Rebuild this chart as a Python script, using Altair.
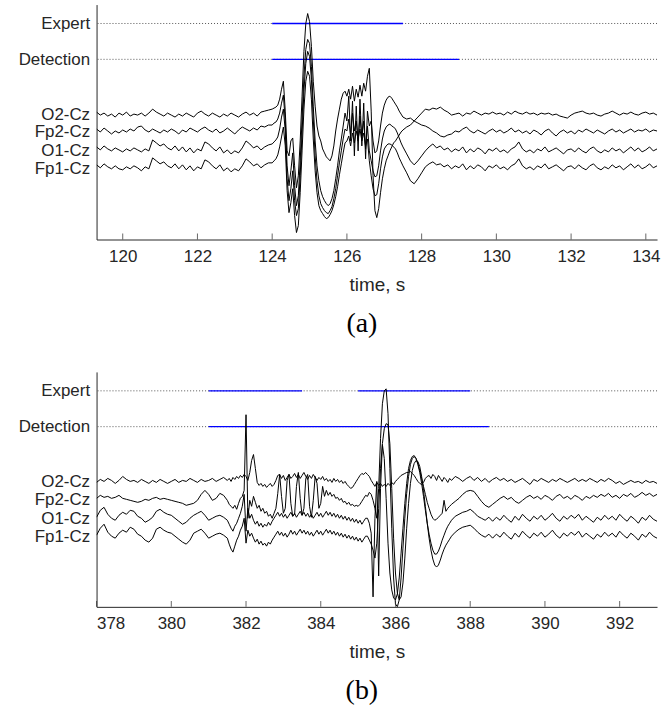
import altair as alt
import pandas as pd

CHANNELS = ["O2-Cz", "Fp2-Cz", "O1-Cz", "Fp1-Cz"]
ROW_LABELS = ["Expert", "Detection", "O2-Cz", "Fp2-Cz", "O1-Cz", "Fp1-Cz"]
ROW_POS = [22, 58, 113, 131, 150, 168]
Y_DOMAIN = [3, 239]

# ---------------- panel (a) ----------------
A_XDOMAIN = [119.3, 134.3]
A_XTICKS = [120, 122, 124, 126, 128, 130, 132, 134]
A_T = ([round(119.3 + 0.1 * i, 2) for i in range(47)]
       + [round(124.0 + 0.05 * i, 2) for i in range(71)]
       + [round(127.6 + 0.1 * i, 2) for i in range(68)])
A_EXPERT = [[124.0, 127.5]]
A_DETECT = [[124.0, 129.0]]

A_O2 = [111, 114, 112, 115, 113, 116, 112,
        114, 111, 115, 113, 114, 112, 115, 112, 108, 111,
        113, 115, 112, 114, 116, 113, 115, 112, 114, 116,
        112, 110, 113, 115, 112, 114, 116, 113, 115, 112,
        114, 116, 113, 111, 114, 112, 115, 111, 110, 109,
        108, 107, 106, 104, 98, 88, 80, 110, 150, 155,
        140, 137, 165, 187, 175, 140, 95, 50, 22, 12,
        20, 45, 80, 105, 125, 135, 140, 148, 152, 156,
        158, 160, 155, 145, 130, 118, 108, 98, 92, 90,
        95, 88, 98, 85, 100, 88, 96, 84, 95, 82,
        90, 75, 67, 110, 175, 210, 217, 208, 192, 178,
        168, 160, 155, 150, 146, 142, 140, 137, 134, 131,
        129,
        126, 124, 120, 116,
        112, 108, 109, 107, 108, 106, 109, 111, 114, 113,
        112, 115, 112, 113, 110, 112, 114, 112, 113, 111,
        113, 112, 114, 111, 113, 110, 112, 113, 111, 113,
        112, 114, 112, 113, 112, 114, 113, 115, 116, 117,
        114, 112, 111, 110, 112, 113, 112, 114, 115, 113,
        112, 110, 112, 114, 112, 113, 111, 113, 114, 112,
        111, 113, 112, 114]
A_FP2 = [128, 131, 127, 130, 133, 130, 132,
         129, 131, 128, 130, 126, 125, 129, 131, 128, 130,
         132, 129, 131, 128, 130, 133, 129, 131, 127, 129,
         131, 128, 126, 129, 131, 128, 132, 130, 127, 130,
         133, 129, 126, 128, 130, 127, 129, 125, 126, 124,
         124, 122, 121, 118, 112, 102, 94, 120, 165, 185,
         170, 152, 185, 205, 195, 160, 118, 75, 48, 38,
         42, 65, 105, 140, 165, 180, 190, 196, 200, 203,
         205, 203, 198, 190, 178, 165, 150, 138, 125, 112,
         120, 95, 140, 100, 155, 105, 150, 98, 145, 102,
         158, 110, 125, 120, 140, 152, 150, 140, 125, 112,
         104, 99, 96, 95, 97, 100, 103, 106, 110, 113,
         116,
         118, 117, 120, 122,
         124, 125, 127, 130, 132, 135, 136, 134, 133, 130,
         131, 128, 126, 130, 132, 129, 131, 133, 130, 128,
         131, 129, 132, 130, 127, 131, 129, 132, 130, 133,
         129, 131, 134, 130, 128, 132, 135, 131, 129, 132,
         130, 133, 129, 131, 128, 130, 132, 129, 131, 133,
         130, 128, 131, 129, 132, 130, 128, 131, 129, 130,
         128, 131, 129, 130]
A_O1 = [146, 149, 145, 148, 150, 147, 149,
        151, 148, 150, 147, 149, 151, 148, 150, 139, 142,
        145, 143, 147, 149, 145, 150, 146, 151, 147, 152,
        148, 150, 141, 143, 147, 150, 146, 152, 149, 153,
        150, 152, 147, 140, 143, 147, 145, 149, 146, 144,
        143, 141, 139, 136, 128, 116, 108, 130, 178, 200,
        188, 170, 200, 215, 208, 175, 132, 90, 62, 50,
        55, 78, 118, 155, 180, 195, 203, 207, 210, 212,
        213, 210, 206, 198, 188, 175, 162, 150, 138, 128,
        130, 118, 135, 112, 130, 120, 140, 115, 135, 120,
        148, 125, 150, 160, 170, 176, 175, 165, 150, 138,
        130, 126, 124, 123, 125, 126, 128, 132, 137, 142,
        146,
        153, 160, 164, 160,
        155, 150, 146, 143, 147, 145, 149, 147, 151, 148,
        150, 146, 152, 148, 151, 147, 149, 153, 148, 150,
        147, 151, 149, 152, 148, 146, 141, 148, 151, 149,
        152, 148, 150, 146, 151, 149, 147, 150, 153, 149,
        148, 151, 147, 150, 152, 148, 146, 150, 152, 149,
        151, 147, 150, 148, 152, 149, 146, 150, 147, 151,
        149, 146, 150, 148]
A_FP1 = [164, 167, 163, 166, 168, 165, 168,
         169, 166, 168, 165, 167, 170, 166, 168, 157, 160,
         163, 161, 165, 167, 163, 168, 164, 169, 165, 170,
         166, 168, 159, 161, 165, 168, 164, 170, 167, 171,
         168, 170, 165, 158, 161, 165, 163, 167, 164, 162,
         162, 160, 158, 154, 146, 136, 126, 145, 190, 212,
         202, 188, 215, 232, 225, 192, 150, 108, 80, 70,
         75, 98, 138, 170, 192, 205, 210, 213, 216, 218,
         217, 214, 210, 204, 196, 186, 174, 163, 152, 142,
         140, 135, 145, 132, 142, 130, 138, 128, 140, 132,
         145, 138, 160, 175, 188, 195, 194, 183, 168, 156,
         148, 145, 143, 143, 144, 146, 148, 152, 157, 161,
         165,
         172, 180, 183, 178,
         172, 166, 163, 161, 164, 163, 166, 164, 168, 165,
         167, 163, 169, 165, 168, 164, 166, 170, 165, 167,
         164, 168, 166, 169, 165, 163, 158, 165, 168, 166,
         169, 165, 167, 163, 168, 166, 164, 167, 170, 166,
         165, 168, 164, 167, 169, 165, 163, 167, 169, 166,
         168, 164, 167, 165, 169, 166, 163, 167, 164, 168,
         166, 163, 167, 165]

# ---------------- panel (b) ----------------
B_XDOMAIN = [378.0, 393.0]
B_XTICKS = [378, 380, 382, 384, 386, 388, 390, 392]
B_T = ([round(378.0 + 0.1 * i, 2) for i in range(35)]
       + [round(381.5 + 0.05 * i, 2) for i in range(121)]
       + [round(387.6 + 0.1 * i, 2) for i in range(55)])
B_EXPERT = [[381.0, 383.5], [385.0, 388.0]]
B_DETECT = [[381.0, 388.5]]

B_O2 = [114, 111, 113, 110, 112, 115, 112, 108, 111, 113,
        112, 114, 111, 113, 115, 112, 114, 111, 113, 115,
        113, 111, 114, 112, 113, 110, 112, 114, 111, 113,
        112, 110, 113, 111, 109,
        112, 110, 113, 109, 111, 108, 110, 107, 109, 106,
        108, 112, 104, 92, 86, 100, 114, 117, 115, 118,
        116, 119, 117, 115, 118, 116, 112, 107, 106, 110,
        107, 112, 109, 106, 110, 108, 105, 109, 106, 110,
        107, 104, 108, 111, 107, 110, 106, 109, 112, 109,
        111, 108, 112, 110, 113, 111, 114, 110, 113, 111,
        114, 112, 115, 113, 116, 118, 120, 119, 116, 113,
        110, 107, 105, 106, 104,
        106, 108, 112, 115, 118, 114, 117, 115, 118, 116,
        118, 115, 117, 114, 116, 113, 111, 109, 107, 106,
        105, 104, 104, 103, 105, 107, 110, 113, 115, 116,
        114, 110, 108, 107, 110, 106, 108, 112, 107, 110,
        113, 109, 111, 114, 110, 112,
        108, 110, 113, 110, 108, 112, 109, 113, 110, 114,
        111, 109, 112, 110, 113, 111, 114, 112, 110, 113,
        116, 111, 113, 110, 112, 114, 111, 113, 110, 112,
        114, 112, 110, 113, 111, 113, 110, 112, 114, 111,
        113, 110, 112, 115, 113, 116, 114, 112, 114, 113,
        115, 112, 114, 113, 115]
B_FP2 = [130, 127, 129, 128, 130, 129, 127, 130, 131, 132,
         133, 134, 133, 131, 132, 130, 129, 131, 130, 131,
         132, 133, 134, 135, 137, 136, 135, 132, 126, 122,
         126, 132, 130, 125, 127,
         132, 136, 138, 140, 137, 141, 135, 130, 128, 122,
         46, 150, 132, 138, 128, 134, 140, 137, 143, 140,
         145, 143, 148, 146, 150, 145, 140, 125, 106, 128,
         145, 140, 112, 106, 135, 148, 146, 118, 104, 130,
         147, 140, 110, 106, 138, 149, 132, 108, 115, 140,
         135, 118, 128, 122, 127, 124, 128, 126, 130, 129,
         132, 130, 134, 133, 136, 134, 137, 136, 138, 137,
         138, 136, 133, 130, 127,
         128, 124, 126, 132, 140, 150, 120, 70, 35, 22,
         20, 45, 100, 160, 210, 236, 239, 232, 210, 180,
         150, 125, 108, 96, 90, 88, 90, 95, 102, 110,
         118, 126, 134, 140, 146, 150, 152, 151, 149, 147,
         145, 132, 143, 140, 138, 136,
         133, 130, 126, 123, 122, 123, 128, 133, 137, 139,
         136, 133, 130, 128, 131, 129, 133, 135, 132, 129,
         127, 130, 128, 131, 127, 129, 132, 128, 126, 130,
         128, 131, 127, 129, 132, 128, 130, 127, 129, 126,
         128, 125, 129, 127, 130, 126, 128, 125, 129, 127,
         124, 127, 125, 128, 126]
B_O1 = [149, 142, 139, 146, 150, 152, 147, 144, 146, 142,
        143, 148, 150, 154, 152, 149, 143, 141, 144, 146,
        147, 150, 153, 156, 154, 150, 147, 145, 143, 147,
        152, 150, 148, 147, 149,
        152, 156, 160, 163, 158, 155, 150, 145, 138, 126,
        163, 140, 150, 146, 152, 156, 153, 158, 155, 159,
        156, 158, 154, 157, 153, 150, 147, 144, 148, 145,
        149, 146, 150, 147, 144, 148, 145, 149, 146, 143,
        147, 144, 148, 145, 149, 146, 150, 147, 144, 148,
        145, 149, 146, 143, 147, 144, 148, 145, 149, 146,
        150, 147, 151, 148, 152, 149, 153, 150, 154, 151,
        155, 152, 156, 153, 150,
        150, 155, 165, 229, 150, 113, 208, 120, 76, 90,
        130, 175, 205, 222, 230, 232, 226, 210, 185, 160,
        135, 115, 100, 92, 88, 87, 90, 96, 104, 115,
        128, 142, 155, 166, 175, 182, 186, 186, 183, 178,
        172, 167, 162, 158, 155, 152,
        148, 146, 144, 143, 141, 144, 148, 150, 152, 149,
        153, 149, 152, 147, 151, 154, 148, 152, 146, 150,
        153, 148, 151, 147, 152, 149, 145, 150, 153, 148,
        151, 147, 150, 146, 152, 148, 151, 154, 149, 152,
        147, 151, 148, 152, 146, 150, 153, 148, 151, 155,
        149, 152, 147, 151, 153]
B_FP1 = [167, 160, 156, 164, 168, 170, 165, 162, 164, 159,
         161, 166, 168, 172, 174, 170, 161, 159, 162, 164,
         165, 168, 171, 174, 176, 172, 165, 163, 161, 165,
         170, 168, 166, 165, 167,
         170, 176, 181, 184, 178, 172, 168, 162, 158, 150,
         175, 162, 168, 165, 170, 174, 171, 176, 173, 177,
         175, 178, 174, 176, 172, 169, 166, 163, 167, 164,
         168, 165, 169, 166, 162, 166, 163, 167, 164, 161,
         165, 162, 166, 163, 167, 164, 168, 165, 162, 166,
         163, 167, 164, 161, 165, 162, 166, 163, 167, 164,
         168, 165, 169, 166, 170, 167, 171, 168, 172, 169,
         173, 170, 174, 171, 168,
         168, 172, 176, 182, 190, 175, 140, 100, 75, 60,
         55, 56, 75, 120, 170, 205, 225, 232, 229, 215,
         190, 160, 135, 115, 102, 95, 92, 93, 98, 108,
         122, 138, 155, 170, 182, 191, 197, 199, 197, 192,
         186, 181, 177, 174, 171, 168,
         164, 161, 159, 158, 157, 160, 164, 167, 169, 166,
         170, 166, 169, 164, 168, 171, 165, 169, 163, 167,
         170, 165, 168, 164, 169, 166, 162, 167, 170, 165,
         168, 164, 167, 163, 169, 165, 168, 171, 166, 169,
         164, 168, 165, 169, 163, 167, 170, 165, 168, 172,
         166, 169, 164, 168, 170]

TEXT = "#262626"
FONT = "Liberation Sans"
W, H = 563, 236

label_expr = " : ".join(
    f"datum.value == {p} ? '{l}'" for p, l in zip(ROW_POS, ROW_LABELS)
) + " : ''"


def panel(times, traces, expert, detect, xdomain, xticks, caption):
    rows = []
    for ch, vals in zip(CHANNELS, traces):
        assert len(vals) == len(times), (caption, ch, len(vals), len(times))
        rows += [{"t": t, "v": v, "ch": ch} for t, v in zip(times, vals)]
    df = pd.DataFrame(rows)

    xs = alt.Scale(domain=xdomain, nice=False, zero=False)
    ys = alt.Scale(domain=Y_DOMAIN, reverse=True, nice=False, zero=False)

    x_enc = alt.X("t:Q", scale=xs, axis=alt.Axis(
        values=xticks, title="time, s", ticks=False, tickSize=0, grid=False,
        labelPadding=9, titlePadding=11, labelFontSize=17, titleFontSize=19,
        format="d"))
    y_enc = alt.Y("v:Q", scale=ys, axis=alt.Axis(
        values=ROW_POS, labelExpr=label_expr, ticks=False, tickSize=0,
        grid=False, title=None, labelPadding=7, labelFontSize=17,
        minExtent=97, maxExtent=97))

    guides = alt.Chart(pd.DataFrame({"v": ROW_POS[:2]})).mark_rule(
        color="#555555", strokeDash=[1, 2], strokeWidth=1
    ).encode(y=alt.Y("v:Q", scale=ys))

    segs = pd.DataFrame(
        [{"t0": a, "t1": b, "v": ROW_POS[0]} for a, b in expert]
        + [{"t0": a, "t1": b, "v": ROW_POS[1]} for a, b in detect])
    blue = alt.Chart(segs).mark_rule(color="#0000ff", strokeWidth=1.4).encode(
        x=alt.X("t0:Q", scale=xs), x2="t1:Q", y=alt.Y("v:Q", scale=ys))

    lines = alt.Chart(df).mark_line(
        color="black", strokeWidth=1.0, clip=True
    ).encode(x=x_enc, y=y_enc, detail="ch:N")

    ticks = alt.Chart(pd.DataFrame({"t": xticks})).mark_tick(
        orient="vertical", color=TEXT, size=6, thickness=1
    ).encode(x=alt.X("t:Q", scale=xs), y=alt.value(H - 3))

    return alt.layer(guides, blue, lines, ticks).properties(
        width=W, height=H,
        title=alt.TitleParams(
            text=caption, orient="bottom", anchor="middle", frame="group",
            font="Liberation Serif", fontSize=28, fontWeight="normal",
            color="black", offset=16, dx=-15))


pa = panel(A_T, [A_O2, A_FP2, A_O1, A_FP1], A_EXPERT, A_DETECT,
           A_XDOMAIN, A_XTICKS, "(a)")
pb = panel(B_T, [B_O2, B_FP2, B_O1, B_FP1], B_EXPERT, B_DETECT,
           B_XDOMAIN, B_XTICKS, "(b)")

chart = alt.vconcat(pa, pb, spacing=34).properties(
    padding={"left": 0, "top": 3, "right": 3, "bottom": 0}
).configure_view(stroke=None).configure_axis(
    labelFont=FONT, titleFont=FONT, labelColor=TEXT, titleColor=TEXT,
    domainColor=TEXT, domainWidth=1, titleFontWeight="normal"
)

chart.save("out.html", embed_options={"renderer": "svg", "actions": False})
